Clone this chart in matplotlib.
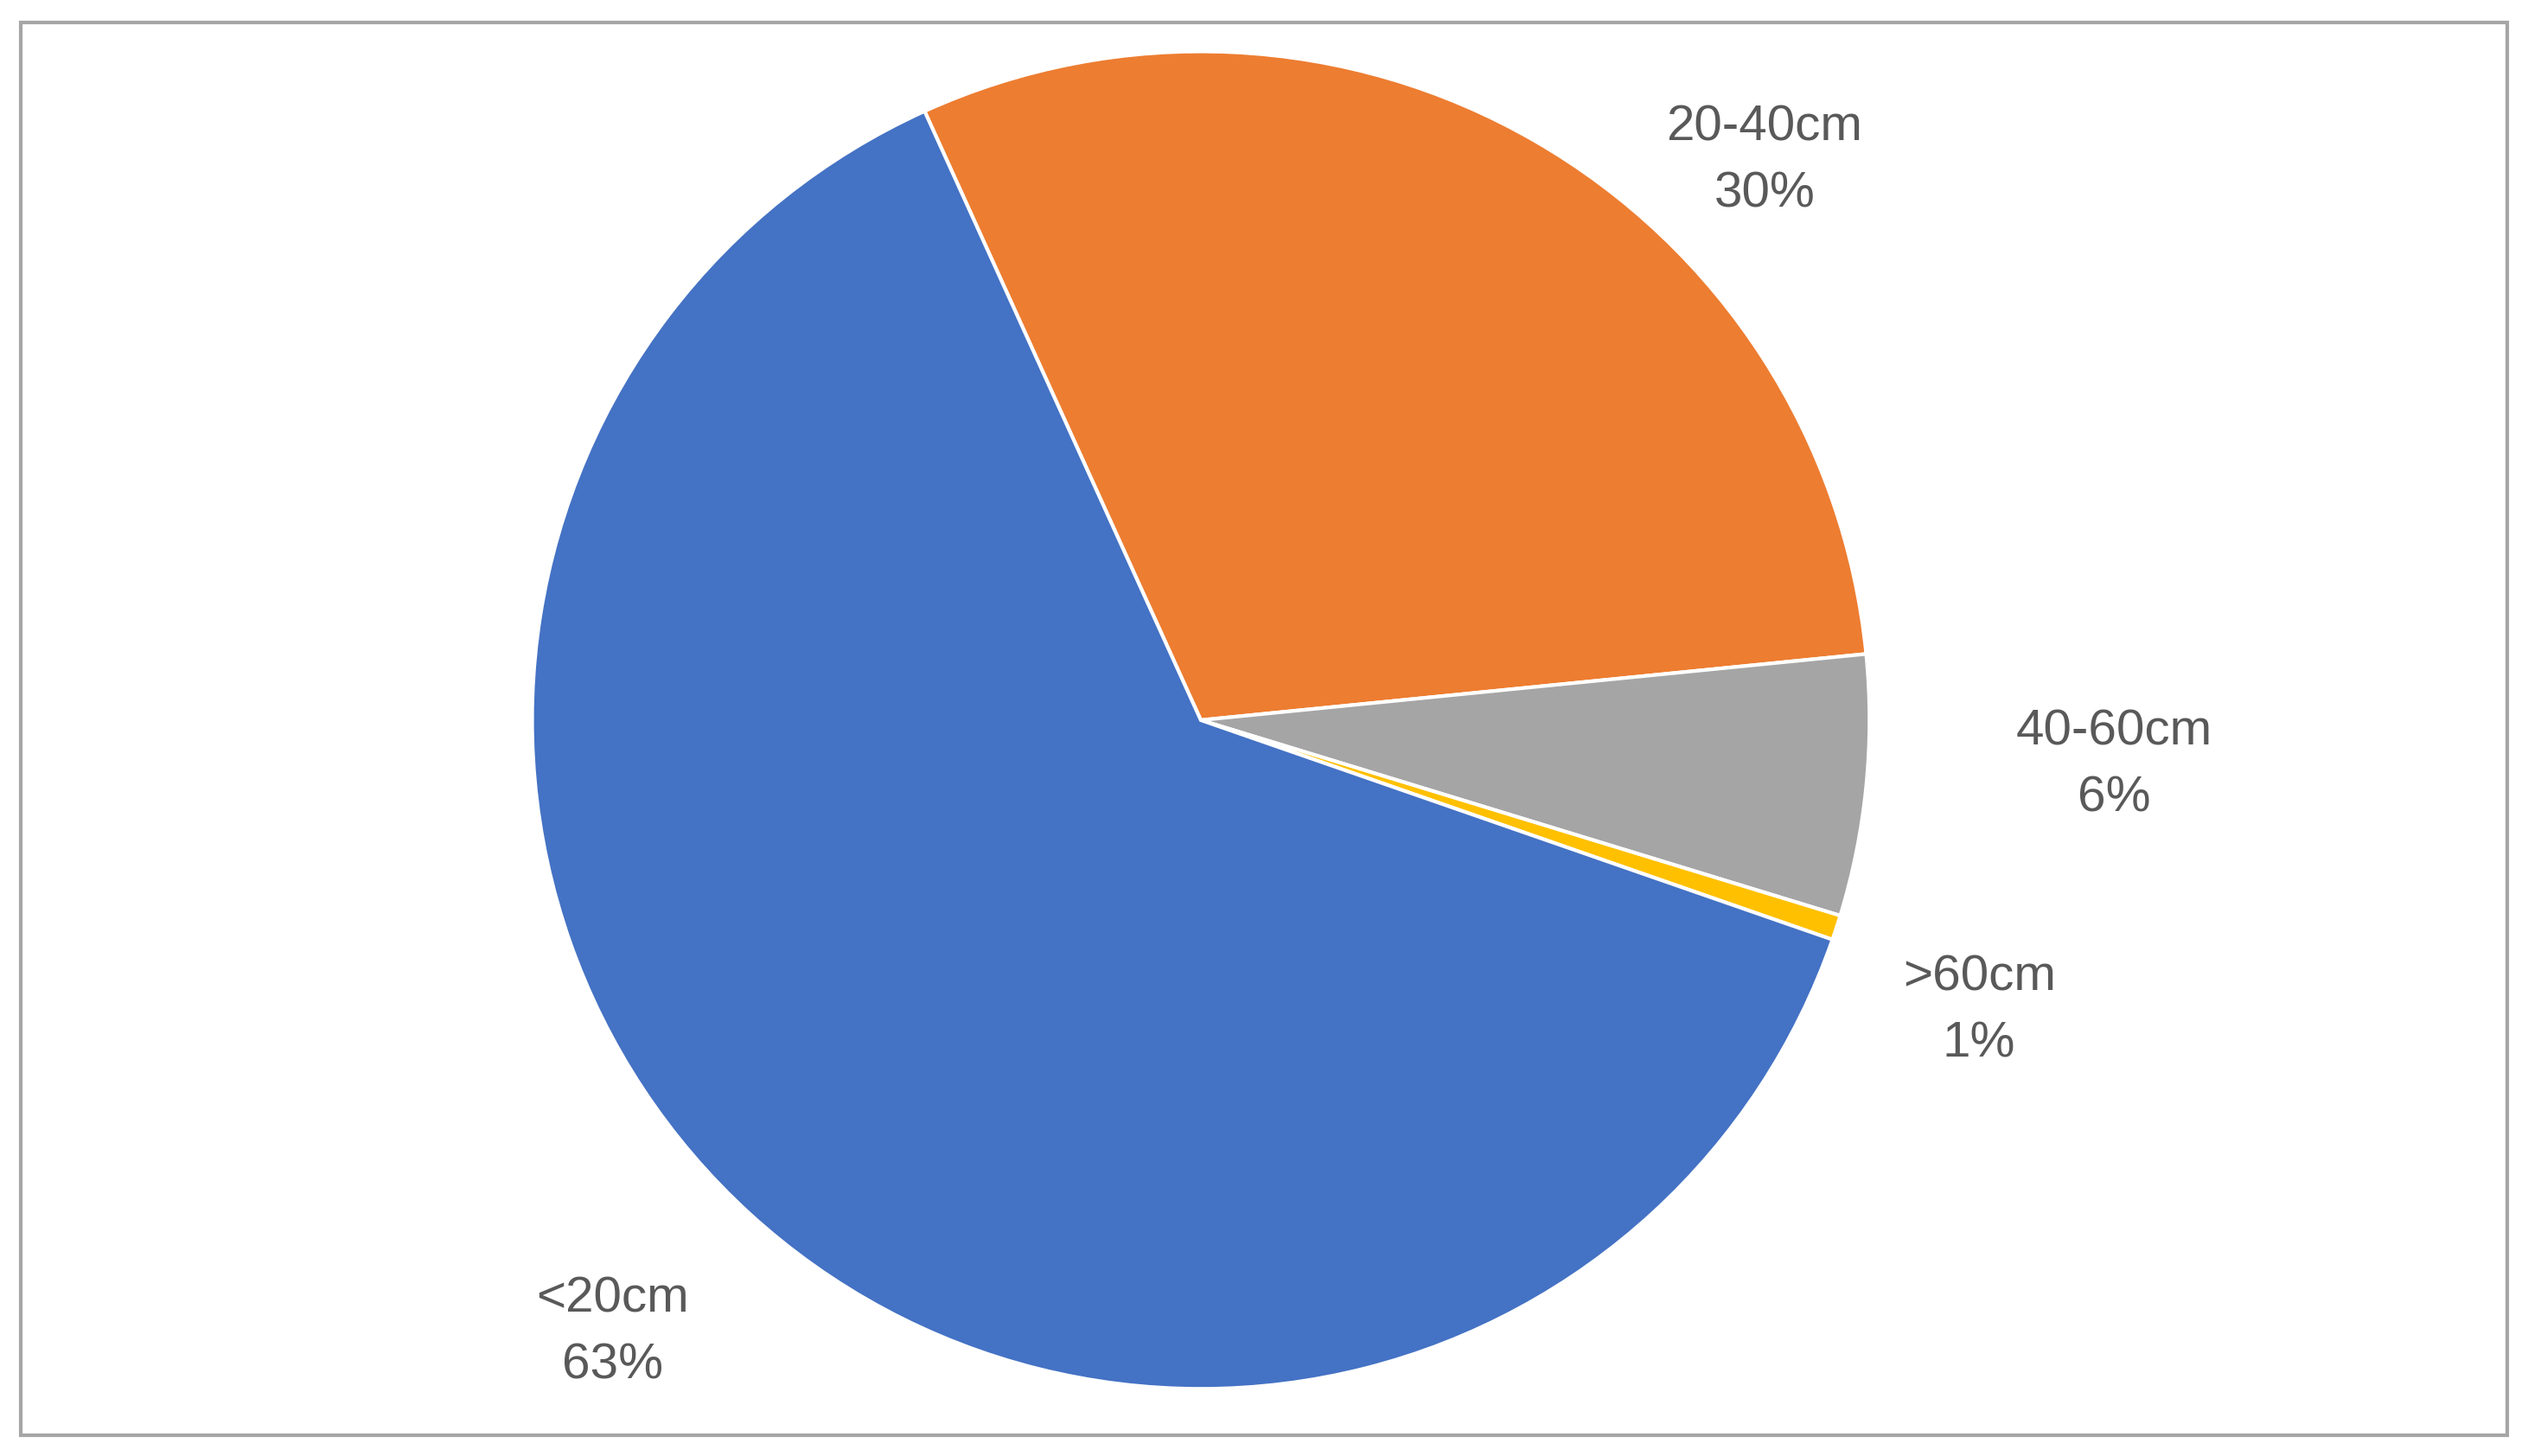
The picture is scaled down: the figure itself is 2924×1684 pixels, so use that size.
import matplotlib
matplotlib.use('Agg')
from matplotlib import pyplot as plt
from matplotlib.patches import Rectangle

labels = ['20-40cm', '40-60cm', '>60cm', '<20cm']
values = [30.2, 6.3, 0.6, 62.9]
pct_text = ['30%', '6%', '1%', '63%']
colors = ['#ED7D31', '#A5A5A5', '#FFC000', '#4472C4']
# label anchor points in pie radius units
label_pos = [(0.843, 0.836), (1.366, -0.067), (1.164, -0.434), (-0.88, -0.916)]

fig = plt.figure(figsize=(14.62, 8.42), dpi=200)
fig.patches.append(Rectangle((13 / 1568, 1 - 887 / 900), 1542 / 1568, 873 / 900,
                             transform=fig.transFigure, fill=False,
                             edgecolor='#A6A6A6', linewidth=1.5))

ax = fig.add_axes([0.2105, 0.0444, 0.529, 0.922])
ax.pie(values, colors=colors, startangle=114.4, counterclock=False,
       wedgeprops={'edgecolor': 'white', 'linewidth': 1.5})
ax.set_xlim(-1, 1)
ax.set_ylim(-1, 1)
ax.set_aspect('equal')
ax.axis('off')

for (x, y), lab, p in zip(label_pos, labels, pct_text):
    ax.text(x, y, lab + '\n' + p, ha='center', va='center', fontsize=21,
            color='#595959', linespacing=1.55, clip_on=False,
            family=['Liberation Sans', 'DejaVu Sans'])

fig.savefig('out.png', dpi=200)
